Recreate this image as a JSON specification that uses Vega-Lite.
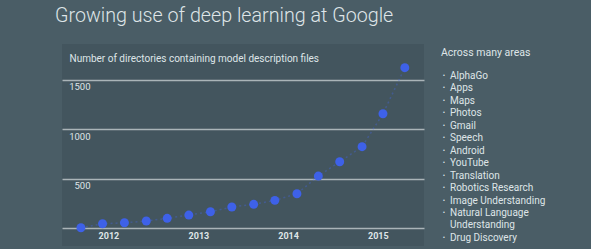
{
  "$schema": "https://vega.github.io/schema/vega-lite/v6.json",
  "background": "#4a5d66",
  "padding": {"left": 55, "top": 6, "right": 0, "bottom": 4},
  "bounds": "flush",
  "spacing": 17,
  "config": {"font": "Roboto"},
  "title": {"text": "Growing use of deep learning at Google", "anchor": "start", "font": "Roboto", "fontWeight": 300, "fontSize": 19.7, "color": "#dfe5e8", "offset": 18, "dx": -7},
  "hconcat": [
    {
      "width": 362,
      "height": 202,
      "view": {"fill": "#43555e", "stroke": null},
      "data": {"values": [
        {"date": "2011-09-11", "dirs": 6},
        {"date": "2011-12-08", "dirs": 46},
        {"date": "2012-03-06", "dirs": 56},
        {"date": "2012-06-03", "dirs": 74},
        {"date": "2012-08-27", "dirs": 101},
        {"date": "2012-11-23", "dirs": 134},
        {"date": "2013-02-19", "dirs": 167},
        {"date": "2013-05-17", "dirs": 215},
        {"date": "2013-08-14", "dirs": 242},
        {"date": "2013-11-08", "dirs": 282},
        {"date": "2014-02-06", "dirs": 349},
        {"date": "2014-05-04", "dirs": 527},
        {"date": "2014-07-30", "dirs": 671},
        {"date": "2014-10-29", "dirs": 823},
        {"date": "2015-01-22", "dirs": 1155},
        {"date": "2015-04-21", "dirs": 1619}
      ]},
      "encoding": {
        "x": {
          "field": "date", "type": "temporal",
          "scale": {"domain": [{"year": 2011, "month": 6, "date": 26}, {"year": 2015, "month": 7, "date": 8}]},
          "axis": {
            "values": [{"year": 2012, "month": 1, "date": 1}, {"year": 2013, "month": 1, "date": 1}, {"year": 2014, "month": 1, "date": 1}, {"year": 2015, "month": 1, "date": 1}],
            "format": "%Y", "grid": false, "ticks": false, "domain": false,
            "labelPadding": -15, "labelFontSize": 9, "labelFontWeight": "bold", "labelColor": "#dfe5e8",
            "labelFlush": false, "title": null
          }
        },
        "y": {
          "field": "dirs", "type": "quantitative",
          "scale": {"domain": [-178, 1858], "nice": false, "zero": false},
          "axis": {
            "values": [0, 500, 1000, 1500],
            "format": "d",
            "grid": true, "gridColor": "#aab4b8", "gridWidth": 1.5, "gridOpacity": 1,
            "ticks": false, "domain": false,
            "labelAlign": "right", "labelBaseline": "top", "labelPadding": -28, "labelOffset": 2,
            "labelFontSize": 9.5, "labelColor": "#dfe5e8",
            "labelExpr": "datum.value == 0 ? '' : datum.label",
            "title": "Number of directories containing model description files",
            "titleAngle": 0, "titleAlign": "left", "titleBaseline": "middle",
            "titleX": 7, "titleY": 14, "titleFontSize": 10, "titleFontWeight": "normal", "titleColor": "#dfe5e8"
          }
        }
      },
      "layer": [
        {"mark": {"type": "line", "color": "#4566ea", "opacity": 0.35, "strokeWidth": 1.5, "strokeDash": [2, 3]}},
        {"mark": {"type": "circle", "size": 80, "color": "#3e61e8", "opacity": 1}}
      ]
    },
    {
      "width": 150,
      "height": 202,
      "view": {"stroke": null},
      "title": {"text": "Across many areas", "anchor": "start", "fontSize": 10.5, "fontWeight": "normal", "color": "#dfe5e8", "offset": -14, "font": "Roboto"},
      "data": {"values": [
        {"line": 0, "item": "AlphaGo", "bullet": "•"},
        {"line": 1, "item": "Apps", "bullet": "•"},
        {"line": 2, "item": "Maps", "bullet": "•"},
        {"line": 3, "item": "Photos", "bullet": "•"},
        {"line": 4, "item": "Gmail", "bullet": "•"},
        {"line": 5, "item": "Speech", "bullet": "•"},
        {"line": 6, "item": "Android", "bullet": "•"},
        {"line": 7, "item": "YouTube", "bullet": "•"},
        {"line": 8, "item": "Translation", "bullet": "•"},
        {"line": 9, "item": "Robotics Research", "bullet": "•"},
        {"line": 10, "item": "Image Understanding", "bullet": "•"},
        {"line": 11, "item": "Natural Language", "bullet": "•"},
        {"line": 12, "item": "Understanding", "bullet": ""},
        {"line": 13, "item": "Drug Discovery", "bullet": "•"}
      ]},
      "encoding": {
        "y": {"field": "line", "type": "quantitative", "scale": {"domain": [-2.57, 13.65], "reverse": true, "nice": false, "zero": false}, "axis": null},
        "x": {"datum": 0, "type": "quantitative", "scale": {"domain": [0, 1]}, "axis": null}
      },
      "layer": [
        {"mark": {"type": "text", "align": "center", "baseline": "middle", "dx": 3, "fontSize": 7, "color": "#dfe5e8"}, "encoding": {"text": {"field": "bullet"}}},
        {"mark": {"type": "text", "align": "left", "baseline": "middle", "dx": 9, "fontSize": 10, "color": "#dfe5e8"}, "encoding": {"text": {"field": "item"}}}
      ]
    }
  ]
}
